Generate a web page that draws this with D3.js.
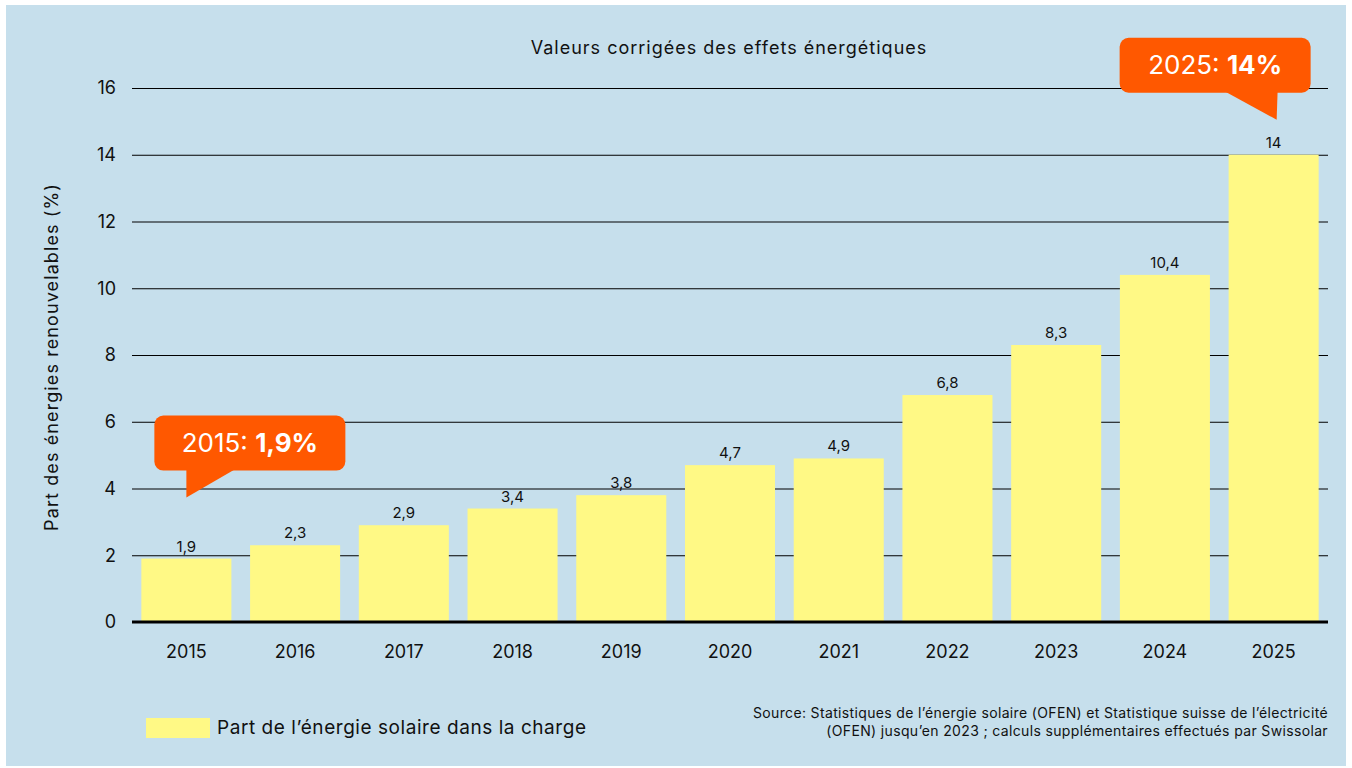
<!DOCTYPE html>
<html>
<head>
<meta charset="utf-8">
<script src="https://cdn.jsdelivr.net/npm/d3@7"></script>
<style>
  body { margin: 0; background: #ffffff; }
  svg { display: block; font-family: "Inter", "Noto Sans", sans-serif; }
</style>
</head>
<body>
<svg id="chart"></svg>
<script>
// data
var years = ["2015", "2016", "2017", "2018", "2019", "2020", "2021", "2022", "2023", "2024", "2025"];
var solarShare = [1.9, 2.3, 2.9, 3.4, 3.8, 4.7, 4.9, 6.8, 8.3, 10.4, 14];
var yTicks = [0, 2, 4, 6, 8, 10, 12, 14, 16];
var callouts = [
  { year: "2015", label: "2015: ", bold: "1,9%" },
  { year: "2025", label: "2025: ", bold: "14%" }
];

var width = 1352, height = 768;
var margin = { top: 88, right: 24, bottom: 146, left: 132 };

var svg = d3.select("#chart")
  .attr("width", width)
  .attr("height", height);

// panel background
svg.append("rect")
  .attr("x", 6).attr("y", 5)
  .attr("width", 1340).attr("height", 761)
  .attr("fill", "#c6dfec");

var x = d3.scaleBand()
  .domain(years)
  .range([margin.left, width - margin.right])
  .paddingInner(0.172)
  .paddingOuter(0.086);

var y = d3.scaleLinear()
  .domain([0, 16])
  .range([height - margin.bottom, margin.top]);

var fmt = function(v) { return String(v).replace(".", ","); };

// title
svg.append("text")
  .attr("x", 729).attr("y", 54)
  .attr("text-anchor", "middle")
  .style("font-size", "18px")
  .style("letter-spacing", "1px")
  .attr("fill", "#111")
  .text("Valeurs corrigées des effets énergétiques");

// gridlines + y ticks
var yAxis = svg.append("g")
  .attr("transform", "translate(" + margin.left + ",0)")
  .call(d3.axisLeft(y).tickValues(yTicks).tickSize(-(width - margin.right - margin.left)).tickPadding(16));
yAxis.select(".domain").remove();
yAxis.selectAll(".tick line").attr("stroke", "#000").attr("stroke-width", 1.2);
yAxis.selectAll(".tick text")
  .style("font-size", "18px")
  .style("font-family", "Inter, 'Noto Sans', sans-serif")
  .attr("fill", "#111");

// y title
svg.append("text")
  .attr("transform", "translate(58," + 357 + ") rotate(-90)")
  .attr("text-anchor", "middle")
  .style("font-size", "18px")
  .style("letter-spacing", "1.1px")
  .attr("fill", "#111")
  .text("Part des énergies renouvelables (%)");

// bars
var rows = years.map(function(yr, i) { return { year: yr, value: solarShare[i] }; });

svg.append("g").selectAll("rect")
  .data(rows)
  .enter()
  .append("rect")
  .attr("x", function(d) { return x(d.year); })
  .attr("y", function(d) { return y(d.value); })
  .attr("width", x.bandwidth())
  .attr("height", function(d) { return y(0) - y(d.value); })
  .attr("fill", "#fff985");

// value labels
svg.append("g").selectAll("text")
  .data(rows)
  .enter()
  .append("text")
  .attr("x", function(d) { return x(d.year) + x.bandwidth() / 2; })
  .attr("y", function(d) { return y(d.value) - 7; })
  .attr("text-anchor", "middle")
  .style("font-size", "15px")
  .attr("fill", "#111")
  .text(function(d) { return fmt(d.value); });

// x axis
var xAxis = svg.append("g")
  .attr("transform", "translate(0," + y(0) + ")")
  .call(d3.axisBottom(x).tickSize(0).tickPadding(23));
xAxis.select(".domain").attr("stroke", "#000").attr("stroke-width", 3)
  .attr("d", "M" + margin.left + ",0H" + (width - margin.right));
xAxis.selectAll(".tick text")
  .style("font-size", "18px")
  .style("font-family", "Inter, 'Noto Sans', sans-serif")
  .attr("fill", "#111");

// callouts
var boxW = 191, boxH = 55;
callouts.forEach(function(c) {
  var v = solarShare[years.indexOf(c.year)];
  var cx = x(c.year) + x.bandwidth() / 2;
  var first = c.year === years[0];
  var tipY = y(v) - (first ? 61 : 35);
  var g = svg.append("g");
  var bx, by = tipY - 27 - boxH;
  var tail;
  if (first) {
    bx = cx - 32;
    tail = [[cx + 0, by + boxH - 2], [cx + 50, by + boxH - 2], [cx, tipY]];
  } else {
    bx = cx - 154;
    tail = [[cx - 50, by + boxH - 2], [cx + 4, by + boxH - 2], [cx + 3, tipY]];
  }
  g.append("path")
    .attr("d", d3.line()(tail) + "Z")
    .attr("fill", "#ff5800");
  g.append("rect")
    .attr("x", bx).attr("y", by)
    .attr("width", boxW).attr("height", boxH)
    .attr("rx", 9)
    .attr("fill", "#ff5800");
  var t = g.append("text")
    .attr("x", bx + boxW / 2).attr("y", by + boxH / 2 + 9)
    .attr("text-anchor", "middle")
    .style("font-size", "26px")
    .attr("fill", "#fff");
  t.append("tspan").text(c.label);
  t.append("tspan").attr("font-weight", "bold").text(c.bold);
});

// legend
svg.append("rect")
  .attr("x", 146).attr("y", 718)
  .attr("width", 64).attr("height", 20)
  .attr("fill", "#fff985");
svg.append("text")
  .attr("x", 217).attr("y", 734)
  .style("font-size", "19px")
  .style("letter-spacing", "0.55px")
  .attr("fill", "#111")
  .text("Part de l’énergie solaire dans la charge");

// source
var src = svg.append("text")
  .attr("text-anchor", "end")
  .style("font-size", "14px")
  .style("letter-spacing", "0.35px")
  .attr("fill", "#111");
src.append("tspan").attr("x", 1328).attr("y", 718)
  .text("Source: Statistiques de l’énergie solaire (OFEN) et Statistique suisse de l’électricité");
src.append("tspan").attr("x", 1328).attr("y", 736)
  .text("(OFEN) jusqu’en 2023 ; calculs supplémentaires effectués par Swissolar");
</script>
</body>
</html>
